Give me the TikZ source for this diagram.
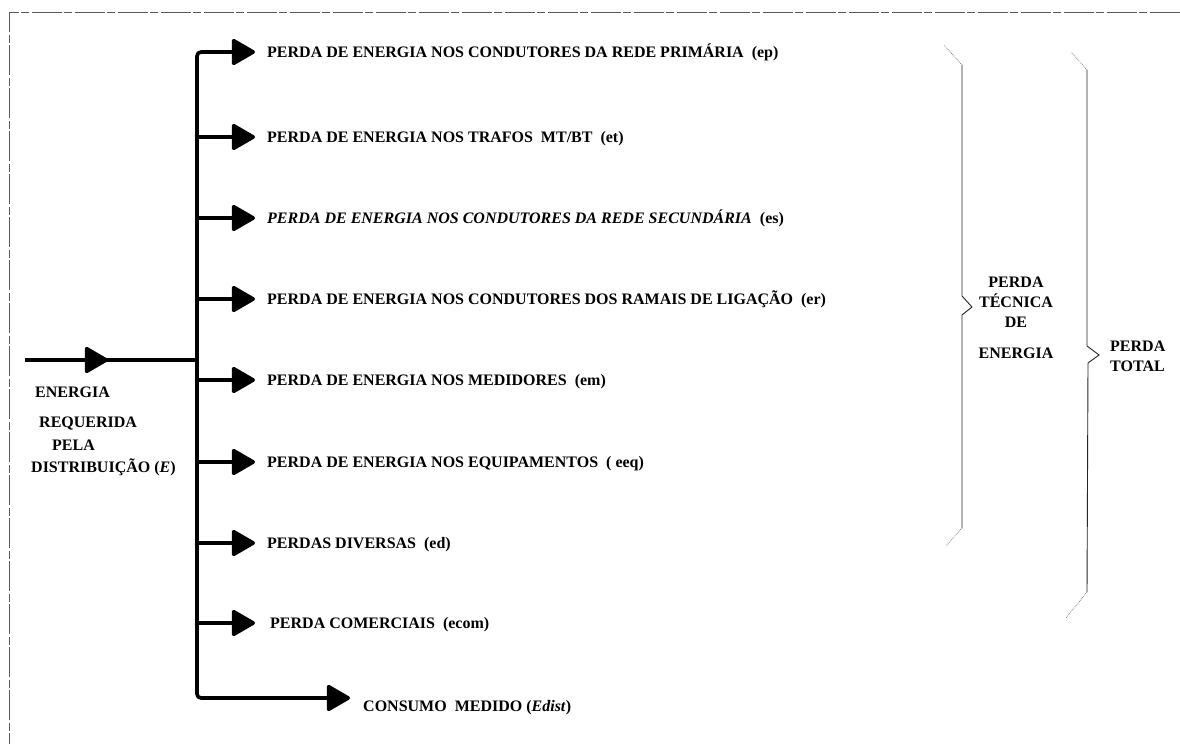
\documentclass[tikz,border=0pt]{standalone}
\usepackage{fontspec}
\setmainfont{Liberation Serif}
\usetikzlibrary{positioning,arrows.meta}

\begin{document}
\begin{tikzpicture}[
  x=1pt,y=-1pt,
  txt/.style={font=\fontsize{16}{20}\selectfont\bfseries,inner sep=0pt},
  lbl/.style={txt,anchor=west,inner xsep=12pt,text height=10pt,text depth=0pt},
  flow/.style={line width=3.6pt,draw=black},
  arr/.style={flow,-{Triangle[length=25pt,width=28pt,round]}},
  brc/.style={line width=0.9pt,draw=black!85},
  brcend/.style={line width=0.7pt,draw=black!55,densely dotted},
  frame/.style={line width=0.8pt,draw=black!65,dash pattern=on 30pt off 3pt on 8pt off 2pt}
]
\useasboundingbox (0,0) rectangle (1180,744);
\draw[frame] (1180,12) -- (9,12) -- (9,744);

% entrada e tronco
\coordinate (src) at (25,360);
\coordinate (mid) at (108,360);
\coordinate (jn) at (197,360);
\coordinate (cm) at (350,698);

\node[lbl] (ep) at (255,52) {PERDA DE ENERGIA NOS CONDUTORES DA REDE PRIMÁRIA\ \ (ep)};
\node[lbl] (et) at (255,137) {PERDA DE ENERGIA NOS TRAFOS\ \ MT/BT\ \ (et)};
\node[lbl] (es) at (255,218) {\itshape PERDA DE ENERGIA NOS CONDUTORES DA REDE SECUNDÁRIA\ \ \upshape(es)};
\node[lbl] (er) at (255,299) {PERDA DE ENERGIA NOS CONDUTORES DOS RAMAIS DE LIGAÇÃO\ \ (er)};
\node[lbl] (em) at (255,380) {PERDA DE ENERGIA NOS MEDIDORES\ \ (em)};
\node[lbl] (eeq) at (255,462) {PERDA DE ENERGIA NOS EQUIPAMENTOS\ \ ( eeq)};
\node[lbl] (ed) at (255,543) {PERDAS DIVERSAS\ \ (ed)};
\node[lbl] (ecom) at (255,623) {\hspace{3pt}PERDA COMERCIAIS\ \ (ecom)};
\node[txt,anchor=west] (edist) at (363,708) {CONSUMO\ \ MEDIDO (\textit{Edist})};

\draw[flow] (src) -- (jn);
\draw[arr] (src) -- (mid);
\draw[arr,rounded corners=4pt] (jn) |- (ep.west);
\draw[arr,rounded corners=4pt] (jn) |- (cm);
\draw[arr] (jn |- et.west) -- (et.west);
\draw[arr] (jn |- es.west) -- (es.west);
\draw[arr] (jn |- er.west) -- (er.west);
\draw[arr] (jn |- em.west) -- (em.west);
\draw[arr] (jn |- eeq.west) -- (eeq.west);
\draw[arr] (jn |- ed.west) -- (ed.west);
\draw[arr] (jn |- ecom.west) -- (ecom.west);

% rotulo da entrada
\node[txt,anchor=west] (en1) at (35,392) {ENERGIA};
\node[txt,anchor=west] (en2) at (39,423) {REQUERIDA};
\node[txt,anchor=west] (en3) at (52,445) {PELA};
\node[txt,anchor=west] (en4) at (31,467) {DISTRIBUIÇÃO (\textit{E})};

% chaves
\draw[brc] (962,65) -- (962,296) -- (972,307) -- (962,315) -- (962,528);
\draw[brcend] (962,65) -- (944,45) (962,528) -- (946,546);
\draw[brc] (1087,70) -- (1087,346) -- (1099,355) -- (1088,363) -- (1087,592);
\draw[brcend] (1087,70) -- (1071,52) (1087,592) -- (1066,618);

\node[txt,align=center,anchor=north] (tec) at (1016,277) {PERDA\\TÉCNICA\\DE\\[11pt]ENERGIA};
\node[txt,align=left,anchor=north west] (tot) at (1110,341) {PERDA\\TOTAL};
\end{tikzpicture}
\end{document}
